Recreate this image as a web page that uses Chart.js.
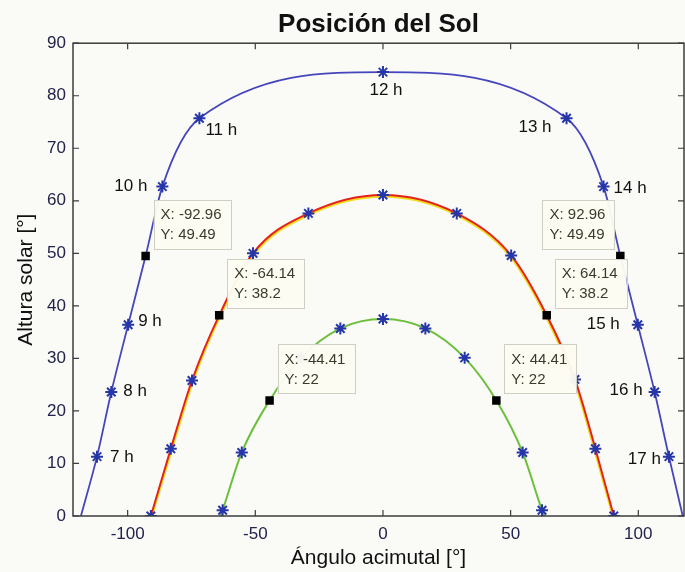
<!DOCTYPE html>
<html lang="es">
<head>
<meta charset="utf-8">
<title>Posición del Sol</title>
<script src="https://cdn.jsdelivr.net/npm/chart.js@4.4.1/dist/chart.umd.min.js"></script>
<style>
    html, body { margin: 0; padding: 0; background: #fafaf7; }
    #grafico { display: block; }
</style>
</head>
<body>
<canvas id="grafico" width="685" height="572"></canvas>
<script>
// ---------------- Datos ----------------
const ticksX = [-100, -50, 0, 50, 100];
const ticksY = [0, 10, 20, 30, 40, 50, 60, 70, 80, 90];

// curva azul (solsticio de verano)
const veranoAz   = [-118.3, -112.0, -106.4, -99.8, -92.96, -86.4, -71.9, 0, 71.9, 86.4, 92.96, 99.8, 106.4, 112.0, 117.4];
const veranoAlt  = [0, 11.3, 23.6, 36.4, 49.49, 62.7, 75.7, 84.5, 75.7, 62.7, 49.49, 36.4, 23.6, 11.3, 0];
const veranoHora = ['', '7 h', '8 h', '9 h', '', '10 h', '11 h', '12 h', '13 h', '14 h', '', '15 h', '16 h', '17 h', ''];

// curva roja (equinoccio)
const equinoccioAz    = [-90.9, -83.1, -74.8, -64.14, -50.9, -29.2, 0, 28.9, 50.2, 64.14, 75.2, 83.2, 90.4];
const equinoccioAlt   = [0, 12.8, 25.8, 38.2, 50.0, 57.6, 61.1, 57.6, 49.6, 38.2, 26.0, 12.8, 0];
const equinoccioMarca = [1, 1, 1, 0, 1, 1, 1, 1, 1, 0, 1, 1, 1];

// curva amarilla (casi superpuesta a la roja)
const otonoAz  = [-90.5, -82.8, -74.5, -63.9, -50.7, -29.1, 0, 28.8, 50.0, 63.9, 74.9, 82.9, 90.0];
const otonoAlt = [0, 12.5, 25.5, 37.9, 49.7, 57.3, 60.8, 57.3, 49.3, 37.9, 25.7, 12.5, 0];

// curva verde (solsticio de invierno)
const inviernoAz    = [-63.6, -62.8, -55.3, -44.41, -32.0, -16.7, 0, 16.6, 32.0, 44.41, 54.7, 62.3, 63.2];
const inviernoAlt   = [0, 1.1, 12.1, 22, 30.1, 35.7, 37.5, 35.7, 30.1, 22, 12.1, 1.1, 0];
const inviernoMarca = [0, 1, 1, 0, 1, 1, 1, 1, 1, 0, 1, 1, 0];

// cursores de datos (cuadrados negros)
const cursorX = [-92.96, -64.14, -44.41, 92.96, 64.14, 44.41];
const cursorY = [49.49, 38.2, 22, 49.49, 38.2, 22];

// ---------------- Estilo ----------------
const familia = '"Liberation Sans", Arial, sans-serif';
const azulMarca = '#2636a8';
Chart.defaults.font.family = familia;

const puntos = (xs, ys) => xs.map((v, i) => ({ x: v, y: ys[i] }));

function serie(xs, ys, color, ancho, marcas, orden) {
    return {
        data: puntos(xs, ys),
        showLine: true,
        borderColor: color,
        borderWidth: ancho,
        cubicInterpolationMode: 'monotone',
        pointStyle: 'star',
        pointRadius: ctx => (marcas && marcas[ctx.dataIndex]) ? 6 : 0,
        pointBorderColor: azulMarca,
        pointBackgroundColor: azulMarca,
        pointBorderWidth: 2,
        order: orden
    };
}

// posicion de cada etiqueta horaria: [alineacion, dx, dy]
const colocacion = {
    '7 h':  ['left', 13, 1],
    '8 h':  ['left', 12, -1],
    '9 h':  ['left', 10, -3],
    '10 h': ['right', -15, 0],
    '11 h': ['left', 6, 12],
    '12 h': ['center', 3, 18],
    '13 h': ['right', -15, 9],
    '14 h': ['left', 10, 2],
    '15 h': ['right', -18, 0],
    '16 h': ['right', -12, -2],
    '17 h': ['right', -8, 3]
};

// ---------------- Plugins ----------------
const etiquetasPlugin = {
    id: 'etiquetas',
    afterLayout(chart) {
        // titulo centrado sobre el area de trazado
        if (chart.titleBlock) chart.titleBlock.left = chart.chartArea.left;
    },
    afterDatasetsDraw(chart) {
        const { ctx, chartArea, scales: { x, y } } = chart;
        ctx.save();

        // horas sobre la curva azul
        ctx.font = '17px ' + familia;
        ctx.fillStyle = '#111';
        ctx.textBaseline = 'middle';
        veranoHora.forEach((h, i) => {
            if (!h) return;
            const [alinea, dx, dy] = colocacion[h];
            ctx.textAlign = alinea;
            ctx.fillText(h, x.getPixelForValue(veranoAz[i]) + dx, y.getPixelForValue(veranoAlt[i]) + dy);
        });

        // cuadros de los cursores
        ctx.font = '15px ' + familia;
        ctx.textAlign = 'left';
        cursorX.forEach((vx, i) => {
            const px = x.getPixelForValue(vx);
            const py = y.getPixelForValue(cursorY[i]);
            const l1 = 'X: ' + vx, l2 = 'Y: ' + cursorY[i];
            const w = Math.max(ctx.measureText(l1).width, ctx.measureText(l2).width) + 16;
            const h = 49;
            let bx = px + 8;
            if (bx + w > chartArea.right) bx = px - 6 - w;
            const by = py - 7 - h;
            ctx.fillStyle = 'rgba(252,252,242,0.96)';
            ctx.fillRect(bx, by, w, h);
            ctx.strokeStyle = '#cfcfc4';
            ctx.lineWidth = 1;
            ctx.strokeRect(Math.round(bx) + 0.5, Math.round(by) + 0.5, Math.round(w), h);
            ctx.fillStyle = '#3b3b2c';
            ctx.fillText(l1, bx + 7, by + 15);
            ctx.fillText(l2, bx + 7, by + 35);
        });
        ctx.restore();
    }
};

const marcoPlugin = {
    id: 'marco',
    afterDraw(chart) {
        const { ctx, chartArea: a, scales: { x, y } } = chart;
        ctx.save();
        ctx.strokeStyle = '#3c3c3c';
        ctx.lineWidth = 1.5;
        ctx.strokeRect(a.left, a.top, a.right - a.left, a.bottom - a.top);
        ctx.lineWidth = 1.2;
        ctx.beginPath();
        x.ticks.forEach(t => {
            const p = x.getPixelForValue(t.value);
            ctx.moveTo(p, a.bottom); ctx.lineTo(p, a.bottom - 6);
            ctx.moveTo(p, a.top); ctx.lineTo(p, a.top + 6);
        });
        y.ticks.forEach(t => {
            const p = y.getPixelForValue(t.value);
            ctx.moveTo(a.left, p); ctx.lineTo(a.left + 6, p);
            ctx.moveTo(a.right, p); ctx.lineTo(a.right - 6, p);
        });
        ctx.stroke();
        ctx.restore();
    }
};

// ---------------- Grafico ----------------
const cursores = {
    data: puntos(cursorX, cursorY),
    showLine: false,
    pointStyle: 'rect',
    pointRadius: 6,
    pointBackgroundColor: '#000',
    pointBorderColor: '#000',
    pointBorderWidth: 0,
    order: 0
};

new Chart(document.getElementById('grafico'), {
    type: 'scatter',
    data: {
        datasets: [
            cursores,
            serie(equinoccioAz, equinoccioAlt, '#e4221c', 2, equinoccioMarca, 1),
            serie(otonoAz, otonoAlt, '#f2dc1e', 2.2, null, 2),
            serie(inviernoAz, inviernoAlt, '#6cbf3c', 2, inviernoMarca, 3),
            serie(veranoAz, veranoAlt, '#4646bc', 1.8, veranoHora, 4)
        ]
    },
    options: {
        responsive: false,
        animation: false,
        events: [],
        layout: { autoPadding: false, padding: { left: 0, right: 1, top: 0, bottom: 0 } },
        plugins: {
            legend: { display: false },
            tooltip: { enabled: false },
            title: {
                display: true,
                text: 'Posición del Sol',
                color: '#111',
                font: { size: 26, weight: 'bold' },
                padding: { top: 9, bottom: 3 }
            }
        },
        scales: {
            x: {
                type: 'linear',
                min: -121.4,
                max: 117.9,
                afterBuildTicks: s => { s.ticks = ticksX.map(v => ({ value: v })); },
                afterFit: s => { s.height = 56; s.paddingLeft = 0; s.paddingRight = 0; },
                grid: { display: false, drawTicks: false },
                border: { display: false },
                ticks: { padding: 8, color: '#22224c', font: { size: 17 } },
                title: {
                    display: true,
                    text: 'Ángulo acimutal [°]',
                    color: '#111',
                    font: { size: 21 },
                    padding: { top: 0, bottom: 1 }
                }
            },
            y: {
                type: 'linear',
                min: 0,
                max: 90,
                afterBuildTicks: s => { s.ticks = ticksY.map(v => ({ value: v })); },
                afterFit: s => { s.width = 73; },
                grid: { display: false, drawTicks: false },
                border: { display: false },
                ticks: { padding: 7, color: '#22224c', font: { size: 17 } },
                title: {
                    display: true,
                    text: 'Altura solar [°]',
                    color: '#111',
                    font: { size: 21 },
                    padding: { top: 14, bottom: 0 }
                }
            }
        }
    },
    plugins: [etiquetasPlugin, marcoPlugin]
});
</script>
</body>
</html>
